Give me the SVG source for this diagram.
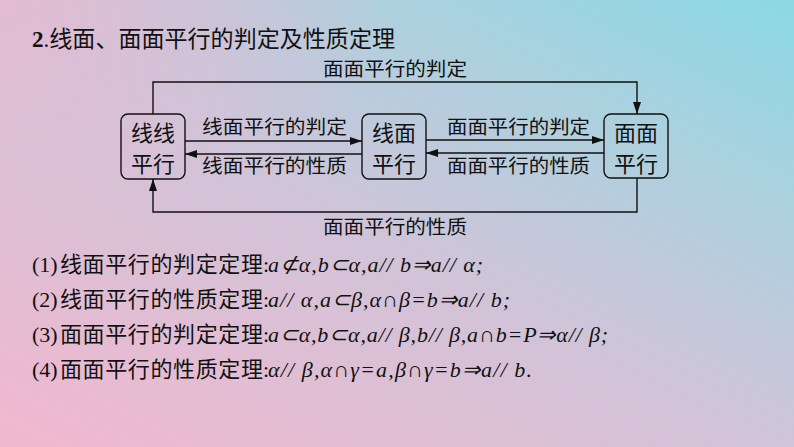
<svg xmlns="http://www.w3.org/2000/svg" width="794" height="447" viewBox="0 0 794 447">
<defs>
<linearGradient id="bg" x1="0.05" y1="1" x2="0.95" y2="0">
<stop offset="0" stop-color="#f0b8cf"/>
<stop offset="0.45" stop-color="#d2c3d8"/>
<stop offset="0.75" stop-color="#aed0de"/>
<stop offset="1" stop-color="#8ed8e4"/>
</linearGradient>
<radialGradient id="tl" cx="0" cy="0" r="0.5">
<stop offset="0" stop-color="#e6b9d2" stop-opacity="0.85"/>
<stop offset="1" stop-color="#e6b9d2" stop-opacity="0"/>
</radialGradient>
<marker id="ah" markerWidth="13" markerHeight="8" refX="12" refY="4" orient="auto" markerUnits="userSpaceOnUse">
<path d="M0,0 L12,4 L0,8 z" fill="#111"/>
</marker>
<style>
.cjk{font-family:"Noto Sans CJK SC","Noto Sans CJK JP",sans-serif;fill:#111}
.ser{font-family:"Liberation Serif","Times New Roman",serif;fill:#111}
.it{font-family:"Liberation Serif","Times New Roman",serif;font-style:italic;fill:#111}
.box{fill:none;stroke:#111;stroke-width:1.4}
.lbl{font-size:19px}
.bt{font-size:22px}
.ln{fill:none;stroke:#111;stroke-width:1.4}
</style>
</defs>
<rect x="0" y="0" width="794" height="447" fill="url(#bg)"/>
<rect x="0" y="0" width="794" height="447" fill="url(#tl)"/>

<text x="32" y="47" font-size="23" textLength="363" lengthAdjust="spacingAndGlyphs"><tspan class="ser" font-weight="bold">2</tspan><tspan class="ser">.</tspan><tspan class="cjk">线面、面面平行的判定及性质定理</tspan></text>

<g id="connectors">
<path class="ln" d="M153,114 V82 H637 V114" marker-end="url(#ah)"/>
<path class="ln" d="M637,178 V212 H153 V179" marker-end="url(#ah)"/>
<path class="ln" d="M185,141 H362" marker-end="url(#ah)"/>
<path class="ln" d="M362,154 H185" marker-end="url(#ah)"/>
<path class="ln" d="M426,140 H604" marker-end="url(#ah)"/>
<path class="ln" d="M604,153 H426" marker-end="url(#ah)"/>
<text class="cjk lbl" x="323" y="76" textLength="144" lengthAdjust="spacingAndGlyphs">面面平行的判定</text>
<text class="cjk lbl" x="323" y="234" textLength="144" lengthAdjust="spacingAndGlyphs">面面平行的性质</text>
<text class="cjk lbl" x="202" y="134" textLength="145" lengthAdjust="spacingAndGlyphs">线面平行的判定</text>
<text class="cjk lbl" x="202" y="173" textLength="145" lengthAdjust="spacingAndGlyphs">线面平行的性质</text>
<text class="cjk lbl" x="447" y="134" textLength="143" lengthAdjust="spacingAndGlyphs">面面平行的判定</text>
<text class="cjk lbl" x="447" y="173" textLength="143" lengthAdjust="spacingAndGlyphs">面面平行的性质</text>
</g>

<g id="node-xianxian">
<rect class="box" x="121" y="114" width="64" height="65" rx="7"/>
<text class="cjk bt" x="153" y="141" text-anchor="middle">线线</text>
<text class="cjk bt" x="153" y="172" text-anchor="middle">平行</text>
</g>
<g id="node-xianmian">
<rect class="box" x="362" y="114" width="64" height="65" rx="7"/>
<text class="cjk bt" x="394" y="141" text-anchor="middle">线面</text>
<text class="cjk bt" x="394" y="172" text-anchor="middle">平行</text>
</g>
<g id="node-mianmian">
<rect class="box" x="604" y="114" width="64" height="64" rx="7"/>
<text class="cjk bt" x="636" y="141" text-anchor="middle">面面</text>
<text class="cjk bt" x="636" y="172" text-anchor="middle">平行</text>
</g>

<g id="theorems">
<text y="272" font-size="22"><tspan class="ser" x="32">(1)</tspan><tspan class="cjk" x="60" textLength="203" lengthAdjust="spacing">线面平行的判定定理</tspan><tspan class="ser" x="263">:</tspan></text>
<text class="it" x="268" y="272" font-size="22" textLength="215" lengthAdjust="spacing">a⊄α,b⊂α,a// b⇒a// α;</text>
<text y="307" font-size="22"><tspan class="ser" x="32">(2)</tspan><tspan class="cjk" x="60" textLength="203" lengthAdjust="spacing">线面平行的性质定理</tspan><tspan class="ser" x="263">:</tspan></text>
<text class="it" x="268" y="307" font-size="22" textLength="242" lengthAdjust="spacing">a// α,a⊂β,α∩β=b⇒a// b;</text>
<text y="342" font-size="22"><tspan class="ser" x="32">(3)</tspan><tspan class="cjk" x="60" textLength="203" lengthAdjust="spacing">面面平行的判定定理</tspan><tspan class="ser" x="263">:</tspan></text>
<text class="it" x="268" y="342" font-size="22" textLength="340" lengthAdjust="spacing">a⊂α,b⊂α,a// β,b// β,a∩b=P⇒α// β;</text>
<text y="377" font-size="22"><tspan class="ser" x="32">(4)</tspan><tspan class="cjk" x="60" textLength="203" lengthAdjust="spacing">面面平行的性质定理</tspan><tspan class="ser" x="263">:</tspan></text>
<text class="it" x="268" y="377" font-size="22" textLength="264" lengthAdjust="spacing">α// β,α∩γ=a,β∩γ=b⇒a// b.</text>
</g>
</svg>
